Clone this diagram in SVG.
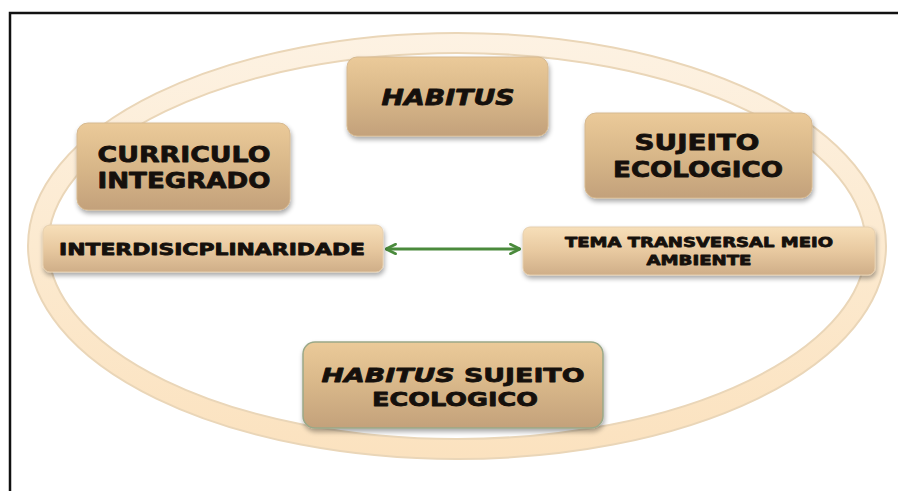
<svg xmlns="http://www.w3.org/2000/svg" width="898" height="491" viewBox="0 0 898 491">
<defs>
<linearGradient id="boxg" x1="0" y1="0" x2="0" y2="1">
<stop offset="0" stop-color="#ebca99"/>
<stop offset="0.5" stop-color="#d8b789"/>
<stop offset="1" stop-color="#c3a17b"/>
</linearGradient>
<linearGradient id="barg" x1="0" y1="0" x2="0" y2="1">
<stop offset="0" stop-color="#f7dfb9"/>
<stop offset="0.5" stop-color="#e8c9a0"/>
<stop offset="1" stop-color="#cfae88"/>
</linearGradient>
<linearGradient id="ringg" gradientUnits="userSpaceOnUse" x1="0" y1="33" x2="0" y2="459">
<stop offset="0" stop-color="#fdf2e3"/>
<stop offset="0.5" stop-color="#fcead0"/>
<stop offset="1" stop-color="#fbe2bf"/>
</linearGradient>
<filter id="sh" x="-10%" y="-10%" width="130%" height="140%">
<feGaussianBlur in="SourceAlpha" stdDeviation="2.5"/>
<feOffset dx="1" dy="3" result="b"/>
<feComponentTransfer><feFuncA type="linear" slope="0.35"/></feComponentTransfer>
<feMerge><feMergeNode/><feMergeNode in="SourceGraphic"/></feMerge>
</filter>
<marker id="ah" viewBox="0 0 10 10" refX="9" refY="5" markerWidth="4" markerHeight="4" orient="auto-start-reverse">
<path d="M1,1 L9,5 L1,9" fill="none" stroke="#4a8a3c" stroke-width="2.2" stroke-linecap="round" stroke-linejoin="round"/>
</marker>
</defs>
<style>
.box{fill:url(#boxg);stroke:#d6b990;stroke-width:1;filter:url(#sh)}
.bar{fill:url(#barg);stroke:#e6cfae;stroke-width:1;filter:url(#sh)}
.t{font-family:"DejaVu Sans","Verdana",sans-serif;font-weight:bold;fill:#15100c;stroke:#15100c;stroke-width:0.8;stroke-linejoin:round;text-anchor:middle}
</style>
<rect x="0" y="0" width="898" height="491" fill="#ffffff"/>
<path d="M10,491 L10,13 L898,13" fill="none" stroke="#111" stroke-width="2.5"/>
<g id="ring">
<ellipse cx="457" cy="246" rx="419" ry="203" fill="none" stroke="#ead6b8" stroke-width="22"/>
<ellipse cx="457" cy="246" rx="419" ry="203" fill="none" stroke="url(#ringg)" stroke-width="18"/>
</g>
<g id="connectors">
<line x1="386" y1="249" x2="520" y2="249" stroke="#4a8a3c" stroke-width="3" marker-start="url(#ah)" marker-end="url(#ah)"/>
</g>
<g id="habitus">
<rect class="box" x="347" y="57" width="201" height="79" rx="10"/>
<text class="t" x="448" y="105" font-size="21" font-style="italic" textLength="133" lengthAdjust="spacingAndGlyphs">HABITUS</text>
</g>
<g id="curriculo">
<rect class="box" x="77" y="123" width="213" height="87" rx="11"/>
<text class="t" x="184" y="162" font-size="22" textLength="173" lengthAdjust="spacingAndGlyphs">CURRICULO</text>
<text class="t" x="184" y="188" font-size="22" textLength="173" lengthAdjust="spacingAndGlyphs">INTEGRADO</text>
</g>
<g id="sujeito">
<rect class="box" x="585" y="113" width="227" height="85" rx="11"/>
<text class="t" x="697" y="150" font-size="22" textLength="125" lengthAdjust="spacingAndGlyphs">SUJEITO</text>
<text class="t" x="698" y="177" font-size="22" textLength="170" lengthAdjust="spacingAndGlyphs">ECOLOGICO</text>
</g>
<g id="interdisciplinaridade">
<rect class="bar" x="43" y="225" width="340" height="47" rx="7"/>
<text class="t" x="212" y="255" font-size="16" textLength="306" lengthAdjust="spacingAndGlyphs">INTERDISICPLINARIDADE</text>
</g>
<g id="tema">
<rect class="bar" x="523" y="227" width="352" height="48" rx="7"/>
<text class="t" x="699" y="247" font-size="14" textLength="268" lengthAdjust="spacingAndGlyphs">TEMA TRANSVERSAL MEIO</text>
<text class="t" x="699" y="265" font-size="14" textLength="105" lengthAdjust="spacingAndGlyphs">AMBIENTE</text>
</g>
<g id="habitus-sujeito">
<rect class="box" x="303" y="342" width="300" height="86" rx="12" style="stroke:#9aa888;stroke-width:1.5"/>
<text class="t" x="453" y="382" font-size="20" textLength="263" lengthAdjust="spacingAndGlyphs"><tspan font-style="italic">HABITUS</tspan> SUJEITO</text>
<text class="t" x="455" y="406" font-size="20" textLength="166" lengthAdjust="spacingAndGlyphs">ECOLOGICO</text>
</g>
</svg>
